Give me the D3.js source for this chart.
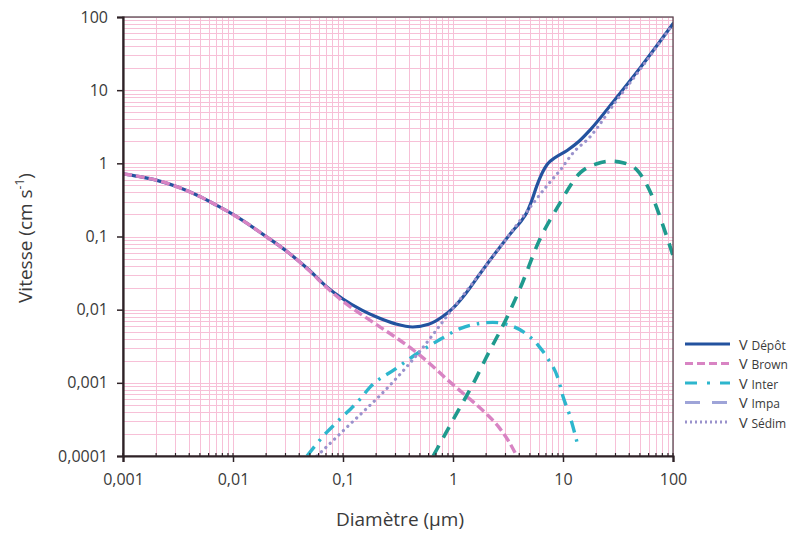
<!DOCTYPE html>
<html>
<head>
<meta charset="utf-8">
<script src="https://cdn.jsdelivr.net/npm/d3@7"></script>
<style>
  html, body { margin: 0; padding: 0; background: #ffffff; }
  svg text { font-family: "Open Sans", "Noto Sans", sans-serif; fill: #3a3a3a; }
</style>
</head>
<body>
<svg id="chart" width="803" height="533"></svg>
<script>
// Deposition velocity components versus particle diameter (log–log)
const xTicks = [0.001, 0.01, 0.1, 1, 10, 100];
const xTickLabels = ["0,001", "0,01", "0,1", "1", "10", "100"];
const yTicks = [0.0001, 0.001, 0.01, 0.1, 1, 10, 100];
const yTickLabels = ["0,0001", "0,001", "0,01", "0,1", "1", "10", "100"];

// V Dépôt (total)
const diamDepot = [0.001, 0.0014, 0.002, 0.0032, 0.005, 0.007, 0.01, 0.02, 0.032, 0.05, 0.07, 0.1, 0.15, 0.2, 0.3, 0.43, 0.6, 0.8, 1.0, 1.3, 1.76, 2.5, 3.5, 4.2, 4.7, 5.2, 5.8, 6.5, 7.2, 8.5, 10.9, 14, 17.6, 30, 50, 100];
const vDepot    = [0.72, 0.66, 0.59, 0.47, 0.352, 0.27, 0.2, 0.1, 0.06, 0.034, 0.021, 0.014, 0.0098, 0.008, 0.0064, 0.0058, 0.0063, 0.008, 0.0105, 0.0165, 0.031, 0.063, 0.12, 0.165, 0.215, 0.31, 0.5, 0.75, 0.97, 1.2, 1.5, 2.0, 2.85, 7.6, 20, 81];

// V Brown (diffusion)
const diamBrown = [0.001, 0.0014, 0.002, 0.0032, 0.005, 0.007, 0.01, 0.02, 0.032, 0.05, 0.07, 0.1, 0.2, 0.3, 0.45, 0.65, 0.89, 1.37, 2.0, 2.6, 3.2, 3.8];
const vBrown    = [0.72, 0.66, 0.59, 0.47, 0.352, 0.27, 0.2, 0.1, 0.06, 0.0335, 0.0205, 0.013, 0.0063, 0.0042, 0.0027, 0.0017, 0.0011, 0.00063, 0.00038, 0.00025, 0.00016, 0.0001];

// V Inter (interception)
const diamInter = [0.047, 0.071, 0.09, 0.143, 0.177, 0.3, 0.45, 0.76, 1.16, 1.76, 2.3, 3.5, 4.7, 6, 7.2, 9.1, 10, 11.5, 13.8];
const vInter    = [0.0001, 0.00021, 0.0003, 0.0006, 0.00088, 0.00155, 0.0024, 0.0039, 0.0055, 0.0065, 0.0067, 0.0059, 0.0046, 0.0032, 0.0022, 0.0011, 0.00065, 0.00036, 0.00013];

// V Impa (impaction)
const diamImpa = [0.66, 1.0, 1.59, 2.0, 3.1, 4.1, 6.1, 8.9, 14.3, 20, 27, 35, 47, 65, 80, 100];
const vImpa    = [0.0001, 0.00031, 0.0011, 0.0022, 0.0079, 0.02, 0.089, 0.25, 0.74, 0.98, 1.07, 1.02, 0.81, 0.35, 0.15, 0.055];

// V Sédim (sedimentation)
const diamSedim = [0.058, 0.1, 0.28, 0.5, 0.9, 2, 4.7, 7.2, 9.5, 12.4, 17.6, 30, 50, 100];
const vSedim    = [0.0001, 0.00022, 0.001, 0.0027, 0.0085, 0.04, 0.22, 0.5, 0.82, 1.4, 2.3, 6.9, 19, 80];

const seriesNames = ["Dépôt", "Brown", "Inter", "Impa", "Sédim"];

const svg = d3.select("#chart");
const plotLeft = 123, plotRight = 673, plotTop = 17, plotBottom = 456;

const x = d3.scaleLog().domain([0.001, 100]).range([plotLeft, plotRight]);
const y = d3.scaleLog().domain([0.0001, 100]).range([plotBottom, plotTop]);

// minor values 1..9 per decade
function minorValues(lo, hi) {
  const out = [];
  for (let e = Math.round(Math.log10(lo)); e < Math.round(Math.log10(hi)); e++) {
    for (let k = 1; k <= 9; k++) out.push(k * Math.pow(10, e));
  }
  out.push(hi);
  return out;
}
const xGrid = minorValues(0.001, 100);
const yGrid = minorValues(0.0001, 100);

// plot background and grid
svg.append("rect").attr("x", plotLeft).attr("y", plotTop).attr("width", plotRight - plotLeft).attr("height", plotBottom - plotTop).attr("fill", "#ffffff");
const grid = svg.append("g").attr("stroke", "#f7c0d7").attr("stroke-width", 1).attr("shape-rendering", "crispEdges");
grid.selectAll("line.v").data(xGrid).join("line").attr("class", "v")
  .attr("x1", d => Math.round(x(d)) + 0.5).attr("x2", d => Math.round(x(d)) + 0.5)
  .attr("y1", plotTop).attr("y2", plotBottom);
grid.selectAll("line.h").data(yGrid).join("line").attr("class", "h")
  .attr("x1", plotLeft).attr("x2", plotRight)
  .attr("y1", d => Math.round(y(d)) + 0.5).attr("y2", d => Math.round(y(d)) + 0.5);

// clip for the curves
svg.append("clipPath").attr("id", "plotclip").append("rect")
  .attr("x", plotLeft).attr("y", plotTop - 2).attr("width", plotRight - plotLeft).attr("height", plotBottom - plotTop + 2);

const line = d3.line().x(d => x(d[0])).y(d => y(d[1])).curve(d3.curveMonotoneX);
const pairs = (ds, vs) => ds.map((d, i) => [d, vs[i]]);

const curves = svg.append("g").attr("clip-path", "url(#plotclip)").attr("fill", "none")
  .attr("stroke-linejoin", "round");

const styles = {
  "Dépôt": { color: "#23529f", width: 3.2, dash: null, cap: "round" },
  "Brown": { color: "#d884c3", width: 3.4, dash: "9,4", cap: "butt" },
  "Inter": { color: "#2db6cd", width: 3.4, dash: "12,7,2.5,7", cap: "butt" },
  "Impa":  { color: "#1f9a8e", width: 3.6, dash: "12,9", cap: "butt" },
  "Sédim": { color: "#9a92cc", width: 3.2, dash: "0.1,6", cap: "round" }
};
const legendColors = { "Dépôt": "#23529f", "Brown": "#d884c3", "Inter": "#2db6cd", "Impa": "#9ea4d8", "Sédim": "#9a92cc" };

const dataBy = {
  "Dépôt": pairs(diamDepot, vDepot),
  "Brown": pairs(diamBrown, vBrown),
  "Inter": pairs(diamInter, vInter),
  "Impa":  pairs(diamImpa, vImpa),
  "Sédim": pairs(diamSedim, vSedim)
};

["Dépôt", "Brown", "Inter", "Impa", "Sédim"].forEach(name => {
  const s = styles[name];
  curves.append("path").datum(dataBy[name])
    .attr("d", line)
    .attr("stroke", s.color)
    .attr("stroke-width", s.width)
    .attr("stroke-dasharray", s.dash)
    .attr("stroke-linecap", s.cap);
});

// frame
svg.append("rect").attr("x", plotLeft).attr("y", plotTop).attr("width", plotRight - plotLeft).attr("height", plotBottom - plotTop)
  .attr("fill", "none").attr("stroke", "#5a4a52").attr("stroke-width", 1.3);

// axes
const yAxis = d3.axisLeft(y).tickValues(yTicks).tickFormat((d, i) => yTickLabels[i]).tickSizeOuter(0).tickSize(6).tickPadding(9);
const gy = svg.append("g").attr("transform", `translate(${plotLeft},0)`).call(yAxis);
const xAxis = d3.axisBottom(x).tickValues(xTicks).tickFormat((d, i) => xTickLabels[i]).tickSizeOuter(0).tickSize(6).tickPadding(12);
const gx = svg.append("g").attr("transform", `translate(0,${plotBottom})`).call(xAxis);
[gx, gy].forEach(g => {
  g.select(".domain").attr("stroke", "#2e2226").attr("stroke-width", 2.2);
  g.selectAll(".tick line").attr("stroke", "#2e2226").attr("stroke-width", 1.5);
  g.selectAll(".tick text").attr("font-size", 16).attr("fill", "#3a3a3a")
    .style("font-family", '"Open Sans", "Noto Sans", sans-serif');
});
// small inner ticks along the bottom axis
svg.append("g").attr("stroke", "#2e2226").attr("stroke-width", 1.2)
  .selectAll("line").data(xGrid).join("line")
  .attr("x1", d => x(d)).attr("x2", d => x(d)).attr("y1", plotBottom).attr("y2", plotBottom - 3);

// axis titles
svg.append("text").attr("x", 400).attr("y", 526).attr("text-anchor", "middle")
  .attr("font-size", 19).text("Diamètre (µm)");
const yt = svg.append("text").attr("transform", "translate(32,238) rotate(-90)").attr("text-anchor", "middle")
  .attr("font-size", 19);
yt.append("tspan").text("Vitesse (cm s");
yt.append("tspan").attr("font-size", 12).attr("dy", -8).text("-1");
yt.append("tspan").attr("dy", 8).text(")");

// legend
const lg = svg.append("g").attr("transform", "translate(685,344)");
const legendDash = { "Dépôt": null, "Brown": "8,4", "Inter": "12,10,3,10", "Impa": "15,12", "Sédim": "2,3" };
seriesNames.forEach((name, i) => {
  const row = lg.append("g").attr("transform", `translate(0,${i * 19.5})`);
  row.append("line").attr("x1", 0).attr("x2", 45).attr("y1", 0).attr("y2", 0)
    .attr("stroke", legendColors[name]).attr("stroke-width", 3.2)
    .attr("stroke-dasharray", legendDash[name]);
  const t = row.append("text").attr("x", 54).attr("y", 5.5);
  t.append("tspan").attr("font-size", 14.5).text("V ");
  t.append("tspan").attr("font-size", 12).text(name);
});
</script>
</body>
</html>
